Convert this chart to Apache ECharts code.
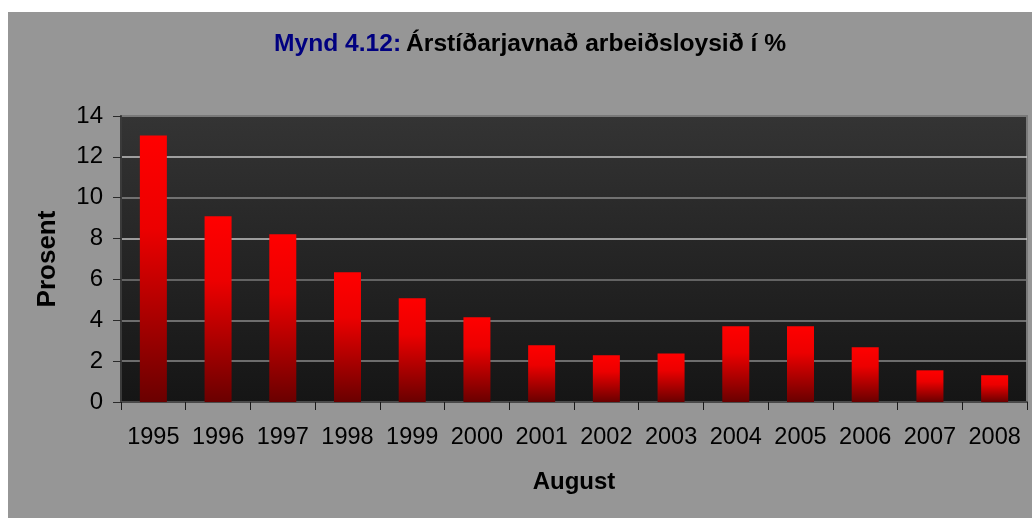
<!DOCTYPE html>
<html>
<head>
<meta charset="utf-8">
<script src="https://cdn.jsdelivr.net/npm/echarts@6/dist/echarts.min.js"></script>
<style>
html,body{margin:0;padding:0;background:#ffffff;}
#chart{position:absolute;left:8px;top:12px;width:1024px;height:506px;}
</style>
</head>
<body>
<div id="chart"></div>
<script>
const years = ['1995','1996','1997','1998','1999','2000','2001','2002','2003','2004','2005','2006','2007','2008'];
const unemployment = [13.05, 9.09, 8.21, 6.35, 5.08, 4.15, 2.78, 2.29, 2.38, 3.71, 3.71, 2.68, 1.55, 1.31];
const yMin = 0, yMax = 14, yStep = 2;
const titlePrefix = 'Mynd 4.12:';
const titleText = 'Árstíðarjavnað arbeiðsloysið í %';
const xName = 'August';
const yName = 'Prosent';

const FONT = '"Liberation Sans", Arial, sans-serif';
const chart = echarts.init(document.getElementById('chart'), null, {renderer: 'canvas'});
chart.setOption({
  backgroundColor: '#969696',
  animation: false,
  title: {
    text: '{a|' + titlePrefix + '} {b|' + titleText + '}',
    left: 261,
    top: 15,
    textStyle: {
      rich: {
        a: {fontFamily: FONT, fontWeight: 'bold', fontSize: 24.6, color: '#000080'},
        b: {fontFamily: FONT, fontWeight: 'bold', fontSize: 24.6, color: '#000000'}
      }
    }
  },
  grid: {
    left: 113, right: 5, top: 104, bottom: 116,
    show: true,
    borderWidth: 2,
    borderColor: '#7a7a7a',
    backgroundColor: new echarts.graphic.LinearGradient(0, 0, 0, 1, [
      {offset: 0, color: '#343434'},
      {offset: 1, color: '#151515'}
    ])
  },
  xAxis: {
    type: 'category',
    data: years,
    boundaryGap: true,
    name: xName,
    nameLocation: 'middle',
    nameGap: 68,
    nameTextStyle: {fontFamily: FONT, fontWeight: 'bold', fontSize: 24, color: '#000'},
    axisLine: {show: true, lineStyle: {color: '#4a4a4a', width: 2}},
    axisTick: {show: true, inside: false, length: 8, alignWithLabel: false, lineStyle: {color: '#1a1a1a', width: 1}},
    axisLabel: {fontFamily: FONT, fontSize: 23.5, color: '#000', margin: 24, interval: 0},
    splitLine: {show: false}
  },
  yAxis: {
    type: 'value',
    min: yMin, max: yMax, interval: yStep,
    name: yName,
    nameLocation: 'middle',
    nameRotate: 90,
    nameGap: 60,
    nameTextStyle: {fontFamily: FONT, fontWeight: 'bold', fontSize: 26, color: '#000'},
    axisLine: {show: true, lineStyle: {color: '#3a3a3a', width: 2}},
    axisTick: {show: true, length: 8, lineStyle: {color: '#2a2a2a', width: 1}},
    axisLabel: {fontFamily: FONT, fontSize: 24, color: '#000', margin: 18},
    splitLine: {show: true, lineStyle: {color: ['#555', '#8a8a8a', '#8a8a8a', '#7a7a7a', '#c4c4c4', '#8a8a8a', '#c4c4c4', '#7a7a7a'], width: 1.5}}
  },
  series: [{
    type: 'bar',
    data: unemployment,
    barWidth: 27,
    itemStyle: {
      color: new echarts.graphic.LinearGradient(0, 0, 0, 1, [
        {offset: 0, color: '#ff0000'},
        {offset: 0.35, color: '#ec0000'},
        {offset: 1, color: '#6a0000'}
      ])
    }
  }]
});
</script>
</body>
</html>
